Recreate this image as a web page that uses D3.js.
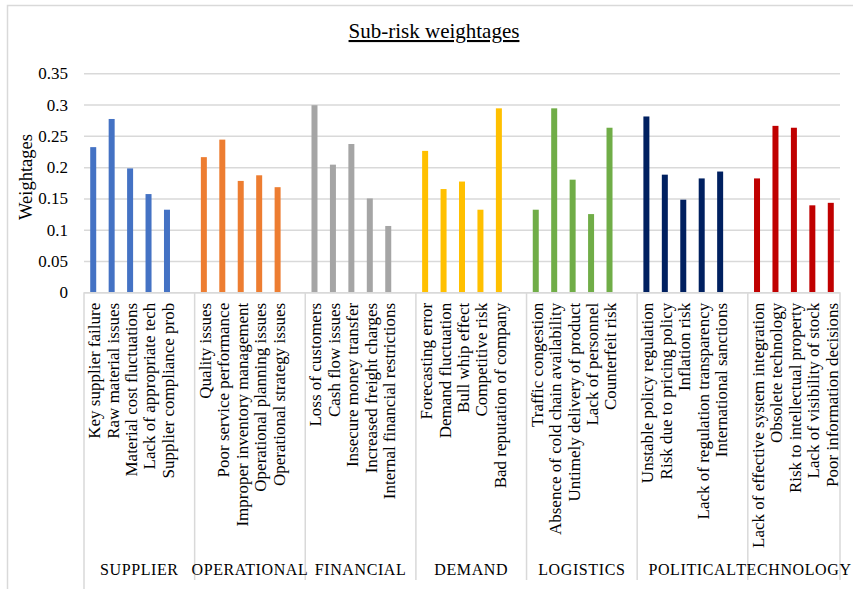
<!DOCTYPE html>
<html>
<head>
<meta charset="utf-8">
<script src="https://cdn.jsdelivr.net/npm/d3@7"></script>
<style>
  html, body { margin: 0; padding: 0; background: #fff; }
  svg { display: block; }
  svg text { font-family: "Liberation Serif", "DejaVu Serif", serif !important; fill: #000; }
</style>
</head>
<body>
<svg id="chart" width="853" height="589" font-family="Liberation Serif, DejaVu Serif, serif"></svg>
<script>
// Risk groups and their sub-risks
const groups = ["SUPPLIER", "OPERATIONAL", "FINANCIAL", "DEMAND", "LOGISTICS", "POLITICAL", "TECHNOLOGY"];

const subRisks = [
  ["Key supplier failure", "Raw material issues", "Material cost fluctuations", "Lack of appropriate tech", "Supplier compliance prob"],
  ["Quality issues", "Poor service performance", "Improper inventory management", "Operational planning issues", "Operational strategy issues"],
  ["Loss of customers", "Cash flow issues", "Insecure money transfer", "Increased freight charges", "Internal financial restrictions"],
  ["Forecasting error", "Demand fluctuation", "Bull whip effect", "Competitive risk", "Bad reputation of company"],
  ["Traffic congestion", "Absence of cold chain availability", "Untimely delivery of product", "Lack of personnel", "Counterfeit risk"],
  ["Unstable policy regulation", "Risk due to pricing policy", "Inflation risk", "Lack of regulation transparency", "International sanctions"],
  ["Lack of effective system integration", "Obsolete technology", "Risk to intellectual property", "Lack of visibility of stock", "Poor information decisions"]
];

const weightages = [
  [0.232, 0.277, 0.198, 0.157, 0.132],
  [0.216, 0.244, 0.178, 0.187, 0.168],
  [0.299, 0.204, 0.237, 0.150, 0.106],
  [0.226, 0.165, 0.177, 0.132, 0.294],
  [0.132, 0.294, 0.180, 0.125, 0.263],
  [0.281, 0.188, 0.148, 0.182, 0.193],
  [0.182, 0.266, 0.263, 0.139, 0.143]
];

const groupColors = ["#4472C4", "#ED7D31", "#A5A5A5", "#FFC000", "#70AD47", "#002060", "#C00000"];

const yTicks = [0, 0.05, 0.1, 0.15, 0.2, 0.25, 0.3, 0.35];

// Flatten into rows; each group is followed by an empty slot except the last
const rows = [];
const slots = [];
groups.forEach((g, gi) => {
  subRisks[gi].forEach((name, i) => {
    const key = g + "|" + i;
    rows.push({ key, group: g, gi, name, value: weightages[gi][i] });
    slots.push(key);
  });
  if (gi < groups.length - 1) slots.push(g + "|gap");
});

const svg = d3.select("#chart");
const plotLeft = 84, plotRight = 840, plotTop = 73.3, plotBottom = 292.3;

const x = d3.scaleBand().domain(slots).range([plotLeft, plotRight]).padding(0);
const y = d3.scaleLinear().domain([0, 0.35]).range([plotBottom, plotTop]);
const grey = "#d9d9d9";

// Outer chart border
svg.append("rect")
  .attr("x", 7.5).attr("y", 5.5)
  .attr("width", 860).attr("height", 600)
  .attr("fill", "none").attr("stroke", grey).attr("stroke-width", 1.5);

// Title
svg.append("text")
  .attr("x", 434).attr("y", 38)
  .attr("text-anchor", "middle")
  .style("font-size", "21px")
  .style("text-decoration", "underline")
  .text("Sub-risk weightages");

// Gridlines and tick labels
const yAxis = d3.axisLeft(y)
  .tickValues(yTicks)
  .tickSize(-(plotRight - plotLeft))
  .tickFormat(d => String(+d.toFixed(2)));
const gy = svg.append("g").attr("transform", `translate(${plotLeft},0)`).call(yAxis);
gy.attr("font-family", null).attr("font-size", null);
gy.select(".domain").remove();
gy.selectAll(".tick line").attr("stroke", grey).attr("stroke-width", 1.5);
gy.selectAll(".tick text")
  .attr("x", -16)
  .attr("fill", "#000")
  .style("font-size", "17px");

// Axis title
svg.append("text")
  .attr("transform", "translate(31.5,177) rotate(-90)")
  .attr("text-anchor", "middle")
  .style("font-size", "18.5px")
  .text("Weightages");

// Bars
const barW = 6;
svg.append("g").selectAll("rect")
  .data(rows)
  .join("rect")
  .attr("x", d => x(d.key) + x.bandwidth() / 2 - barW / 2)
  .attr("width", barW)
  .attr("y", d => y(d.value))
  .attr("height", d => y(0) - y(d.value))
  .attr("fill", d => groupColors[d.gi]);

// Category axis line
svg.append("line")
  .attr("x1", plotLeft).attr("x2", plotRight)
  .attr("y1", y(0) + 0.5).attr("y2", y(0) + 0.5)
  .attr("stroke", grey).attr("stroke-width", 1.5);

// Group separators on the category axis
const boundaries = [plotLeft];
groups.forEach((g, gi) => {
  if (gi < groups.length - 1) boundaries.push(x(g + "|gap") + x.bandwidth());
});
boundaries.push(plotRight);
svg.append("g").selectAll("line")
  .data(boundaries)
  .join("line")
  .attr("x1", d => d).attr("x2", d => d)
  .attr("y1", y(0)).attr("y2", (d, i) => i === 0 ? 589 : 580)
  .attr("stroke", grey).attr("stroke-width", 1.5);

// Sub-risk labels (rotated)
svg.append("g").selectAll("text")
  .data(rows)
  .join("text")
  .attr("transform", d => `translate(${x(d.key) + x.bandwidth() / 2 + 1},${y(0) + 10.5}) rotate(-90)`)
  .attr("text-anchor", "end")
  .attr("dy", "0.35em")
  .style("font-size", "17px")
  .text(d => d.name);

// Group labels
svg.append("g").selectAll("text")
  .data(groups)
  .join("text")
  .attr("x", (g, gi) => (boundaries[gi] + boundaries[gi + 1]) / 2)
  .attr("y", 575)
  .attr("text-anchor", "middle")
  .style("font-size", "16px")
  .style("letter-spacing", "0.6px")
  .text(g => g);
</script>
</body>
</html>
